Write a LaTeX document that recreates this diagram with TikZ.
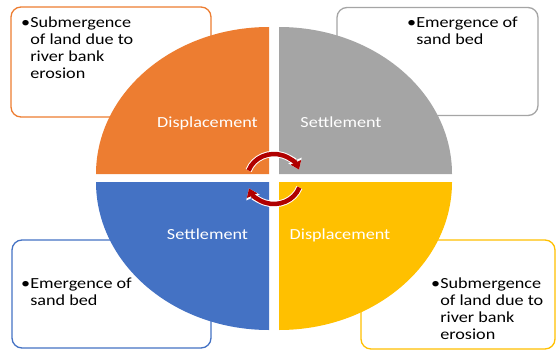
\documentclass[tikz,border=0pt]{standalone}
\usepackage{fontspec}
\setmainfont{Carlito}
\usepackage{xcolor}
\usepackage{tikz}
\usetikzlibrary{positioning,calc,arrows.meta}

\definecolor{cycOrange}{HTML}{ED7D31}
\definecolor{cycGray}{HTML}{A5A5A5}
\definecolor{cycBlue}{HTML}{4472C4}
\definecolor{cycYellow}{HTML}{FFC000}
\definecolor{cycRed}{HTML}{B00000}

\begin{document}
\begin{tikzpicture}[x=1pt, y=-1pt,
    cyc box/.style={rectangle, draw, line width=1.3pt, rounded corners=10pt, fill=white, inner sep=0pt},
    cyc text/.style={anchor=base west, inner sep=0pt, xscale=1.18, font=\fontsize{15.4}{17}\selectfont},
    cyc label/.style={anchor=base, inner sep=0pt, text=white, xscale=1.18, font=\fontsize{15.4}{17}\selectfont},
    cyc arrow/.style={-{Triangle[length=8pt, width=11pt]}, line width=4.5pt, cycRed},
    cyc halo/.style={-{Triangle[length=10pt, width=14pt]}, line width=6.5pt, white}]

    \useasboundingbox (0,0) rectangle (556,350);

    % text boxes behind the circle
    \node [cyc box, draw=cycOrange, minimum width=200pt, minimum height=110pt] (boxTL) at (111,62) {};
    \node [cyc box, draw=cycGray, minimum width=201pt, minimum height=108pt] (boxTR) at (437.5,61.5) {};
    \node [cyc box, draw=cycBlue, minimum width=199pt, minimum height=108pt] (boxBL) at (111.5,294) {};
    \node [cyc box, draw=cycYellow, minimum width=194pt, minimum height=109pt] (boxBR) at (458,294.5) {};

    % the four quarters
    \fill [cycOrange] (269,174) -- (96,174) arc[start angle=180, end angle=270, x radius=173, y radius=147] -- cycle;
    \fill [cycGray] (279,174) -- (279,27) arc[start angle=270, end angle=360, x radius=173, y radius=147] -- cycle;
    \fill [cycBlue] (269,182) -- (96,182) arc[start angle=180, end angle=90, x radius=173, y radius=148] -- cycle;
    \fill [cycYellow] (279,182) -- (452,182) arc[start angle=0, end angle=90, x radius=173, y radius=148] -- cycle;

    \node [cyc label] (dispTop) at (207.5,127) {Displacement};
    \node [cyc label] (settTop) at (341,127) {Settlement};
    \node [cyc label] (settBot) at (207.5,239) {Settlement};
    \node [cyc label] (dispBot) at (340,239) {Displacement};

    \node [cyc text] (textTL) at (21,28) {\begin{tabular}[t]{@{}l@{}l@{}}\textbullet&Submergence\\&of land due to\\&river bank\\&erosion\end{tabular}};
    \node [cyc text] (textTR) at (407,28) {\begin{tabular}[t]{@{}l@{}l@{}}\textbullet&Emergence of\\&sand bed\end{tabular}};
    \node [cyc text] (textBL) at (21,288) {\begin{tabular}[t]{@{}l@{}l@{}}\textbullet&Emergence of\\&sand bed\end{tabular}};
    \node [cyc text] (textBR) at (431,288) {\begin{tabular}[t]{@{}l@{}l@{}}\textbullet&Submergence\\&of land due to\\&river bank\\&erosion\end{tabular}};

    % cycle arrows
    \coordinate (hub) at (274,179);
    \draw [cyc halo] (hub) ++(-160:27 and 25) arc[start angle=-160, end angle=-22, x radius=27, y radius=25];
    \draw [cyc arrow] (hub) ++(-160:27 and 25) arc[start angle=-160, end angle=-22, x radius=27, y radius=25];
    \draw [cyc halo] (hub) ++(20:27 and 25) arc[start angle=20, end angle=158, x radius=27, y radius=25];
    \draw [cyc arrow] (hub) ++(20:27 and 25) arc[start angle=20, end angle=158, x radius=27, y radius=25];

\end{tikzpicture}
\end{document}
